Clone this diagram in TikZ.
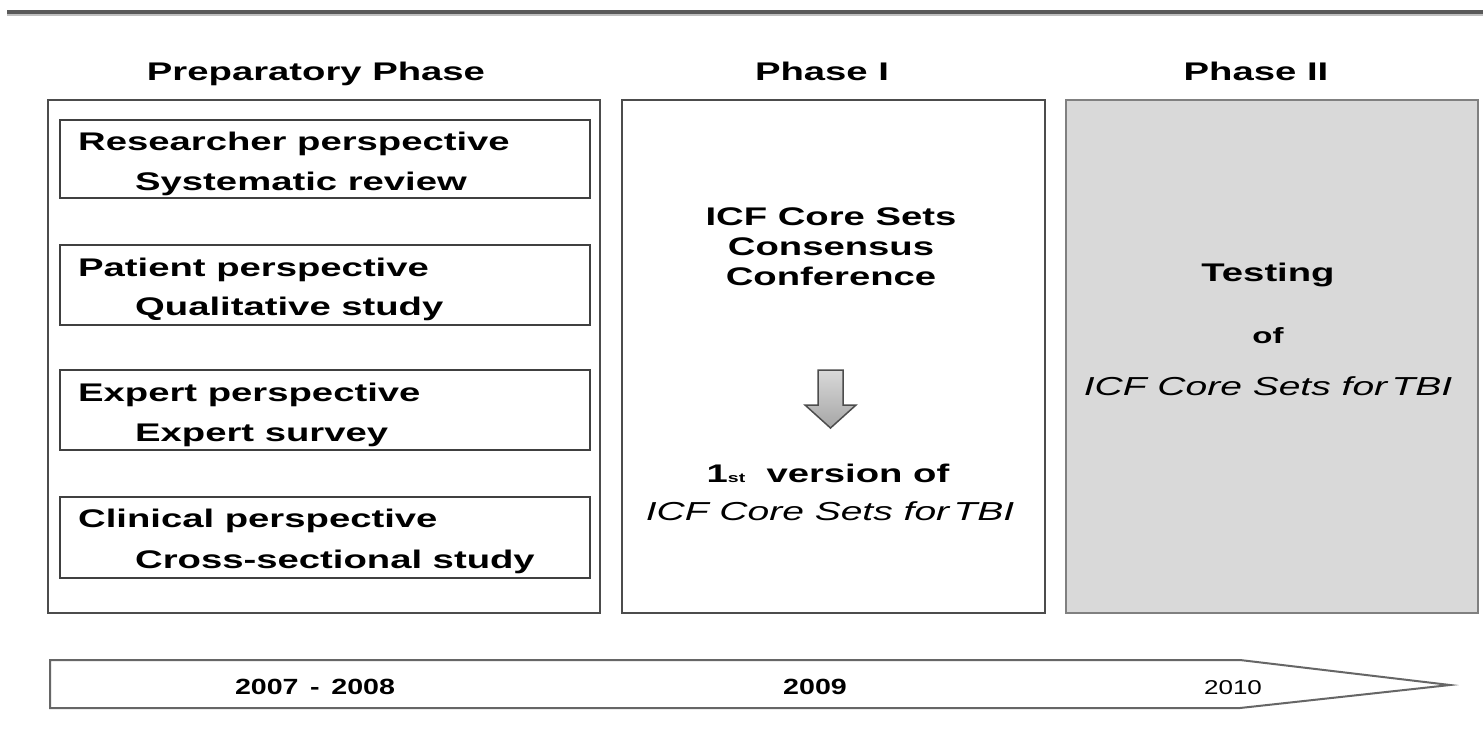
\documentclass[tikz,border=0pt]{standalone}
\usepackage{fontspec}
\setmainfont{Liberation Sans}[FakeStretch=1.5]
\newfontfamily\narrowsans{Liberation Sans}[FakeStretch=1.3]
\begin{document}
\begin{tikzpicture}[x=1pt,y=-1pt,
  frame/.style={draw=black!70, line width=2.5pt},
  inbox/.style={draw=black!75, line width=2.2pt},
  lbl/.style={inner sep=0pt, font=\fontsize{25.5}{28}\selectfont\bfseries},
  lbli/.style={inner sep=0pt, font=\fontsize{26}{28}\selectfont\itshape},
  yr/.style={inner sep=0pt, font=\fontsize{22}{24}\narrowsans\bfseries},
]
\useasboundingbox (0,0) rectangle (1483,734);
\fill[white] (0,0) rectangle (1483,734);
% top rule
\draw[black!65, line width=4pt] (7,12) -- (1483,12);
\draw[black!25, line width=1.5pt] (7,15) -- (1483,15);

% headers
\node[lbl, anchor=base] (hprep) at (316,80) {Preparatory Phase};
\node[lbl, anchor=base] (hp1) at (822,80) {Phase I};
\node[lbl, anchor=base] (hp2) at (1256,80) {Phase II};

% column frames
\draw[frame] (48,100) rectangle (600,613);
\draw[frame] (622,100) rectangle (1045,613);
\draw[draw=black!50, line width=2.5pt, fill=black!15] (1066,100) rectangle (1478,613);

% inner boxes
\draw[inbox] (60,120) rectangle (590,198);
\draw[inbox] (60,245) rectangle (590,325);
\draw[inbox] (60,370) rectangle (590,450);
\draw[inbox] (60,497) rectangle (590,578);

\node[lbl, anchor=base west] (r1) at (78,150) {Researcher perspective};
\node[lbl, anchor=base west] (r2) at (135,190) {Systematic review};
\node[lbl, anchor=base west] (p1) at (78,276) {Patient perspective};
\node[lbl, anchor=base west] (p2) at (135,315) {Qualitative study};
\node[lbl, anchor=base west] (e1) at (78,401) {Expert perspective};
\node[lbl, anchor=base west] (e2) at (135,441) {Expert survey};
\node[lbl, anchor=base west] (c1) at (78,527) {Clinical perspective};
\node[lbl, anchor=base west] (c2) at (135,568) {Cross-sectional study};

% Phase I
\node[lbl, anchor=base] (icf) at (831,225) {ICF Core Sets};
\node[lbl, anchor=base] (cons) at (831,255) {Consensus};
\node[lbl, anchor=base] (conf) at (831,285) {Conference};
\draw[draw=black!70, line width=1.5pt, top color=black!15, bottom color=black!35]
  (818,370) -- (843,370) -- (843,405) -- (856,405) -- (830.5,428) -- (805,405) -- (818,405) -- cycle;
\node[lbl, anchor=base] (ver) at (828,482) {1{\fontsize{13}{14}\selectfont st}\ \ version of};
\node[lbli, anchor=base] (tbi1) at (830,520) {ICF Core Sets for\,TBI};

% Phase II
\node[lbl, anchor=base] (test) at (1268,281) {Testing};
\node[lbl, anchor=base, font=\fontsize{22}{24}\selectfont\bfseries] (of) at (1268,343) {of};
\node[lbli, anchor=base] (tbi2) at (1268,395) {ICF Core Sets for\,TBI};

% timeline
\draw[draw=black!60, line width=2pt, fill=white]
  (50,660) -- (1240,660) -- (1450,685) -- (1240,708) -- (50,708) -- cycle;
\node[yr, anchor=base] (y1) at (315,694) {2007\,\ -\ \,2008};
\node[yr, anchor=base] (y2) at (815,694) {2009};
\node[inner sep=0pt, anchor=base, font=\fontsize{20}{22}\narrowsans] (y3) at (1233,694) {2010};
\end{tikzpicture}
\end{document}
